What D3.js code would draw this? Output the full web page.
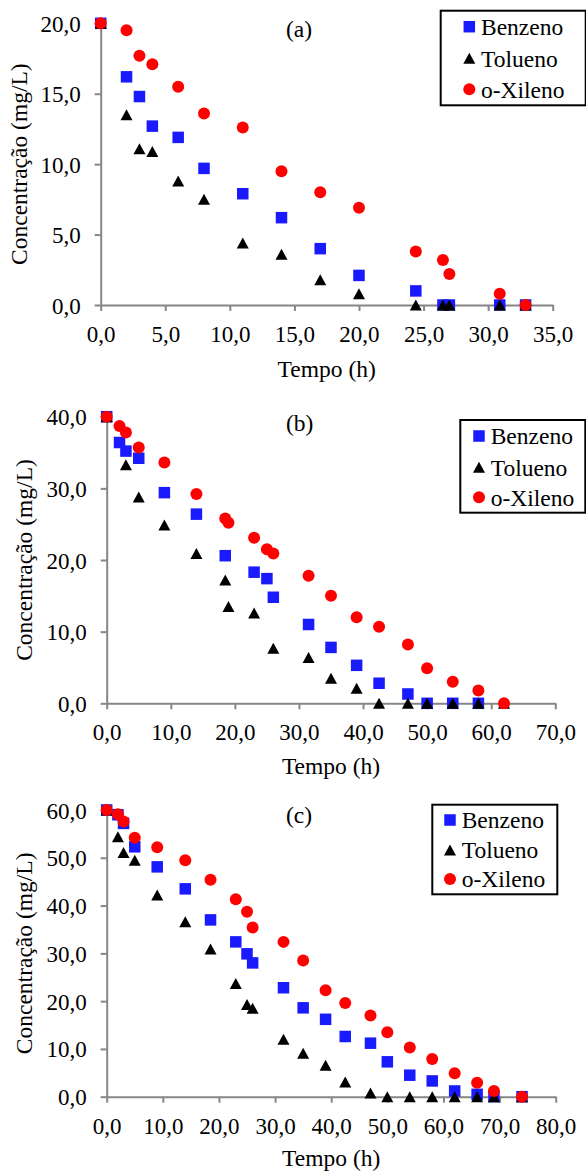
<!DOCTYPE html>
<html>
<head>
<meta charset="utf-8">
<script src="https://cdn.jsdelivr.net/npm/d3@7"></script>
<style>
  html, body { margin: 0; padding: 0; background: #fff; }
  svg { display: block; }
</style>
</head>
<body>
<div id="chart"></div>
<script>
// Panel (a)
const timeA = [0, 2, 3, 4, 6, 8, 11, 14, 17, 20, 24.4, 26.5, 27, 30.9, 32.9];
const benzenoA = [20, 16.2, 14.8, 12.7, 11.9, 9.7, 7.9, 6.2, 4.0, 2.1, 1.0, 0, 0, 0, 0];
const toluenoA = [20, 13.5, 11.1, 10.9, 8.8, 7.5, 4.4, 3.6, 1.8, 0.8, 0, 0, 0, 0, 0];
const xilenoA = [20, 19.5, 17.7, 17.1, 15.5, 13.6, 12.6, 9.5, 8.0, 6.9, 3.8, 3.2, 2.2, 0.8, 0];

// Panel (b)
const timeB = [0, 2, 3, 5, 9, 14, 18.5, 19, 23, 25, 26, 31.5, 35, 39, 42.5, 47, 50, 54, 58, 62];
const benzenoB = [40, 36.4, 35.2, 34.2, 29.4, 26.4, 20.6, null, 18.3, 17.4, 14.8, 11.0, 7.8, 5.3, 2.8, 1.3, 0, 0, 0, null];
const toluenoB = [40, null, 33.3, 28.8, 24.9, 20.9, 17.2, 13.5, 12.6, null, 7.7, 6.4, 3.5, 2.1, 0, 0, 0, 0, 0, 0];
const xilenoB = [40, 38.7, 37.8, 35.7, 33.6, 29.2, 25.8, 25.2, 23.1, 21.5, 20.9, 17.8, 15.0, 12.0, 10.7, 8.2, 4.9, 3.0, 1.8, 0];

// Panel (c)
const timeC = [0, 2, 3, 5, 9, 14, 18.5, 23, 25, 26, 31.5, 35, 39, 42.5, 47, 50, 54, 58, 62, 66, 69, 74];
const benzenoC = [60, 59.0, 57.2, 52.3, 48.1, 43.5, 37.0, 32.4, 29.9, 28.0, 22.8, 18.6, 16.2, 12.6, 11.2, 7.3, 4.5, 3.3, 1.2, 0.5, 0, 0];
const toluenoC = [60, 54.4, 51.1, 49.5, 42.2, 36.6, 30.9, 23.7, 19.3, 18.5, 12.0, 9.1, 6.6, 3.1, 0.8, 0, 0, 0, 0, 0, 0, 0];
const xilenoC = [60, 59.1, 57.6, 54.2, 52.2, 49.5, 45.4, 41.3, 38.7, 35.4, 32.4, 28.5, 22.3, 19.6, 17.0, 13.5, 10.3, 7.9, 4.9, 2.9, 1.2, 0];

const seriesNames = ['Benzeno', 'Tolueno', 'o-Xileno'];
const panelLabels = ['(a)', '(b)', '(c)'];
const xTicksA = [0, 5, 10, 15, 20, 25, 30, 35];
const yTicksA = [0, 5, 10, 15, 20];
const xTicksB = [0, 10, 20, 30, 40, 50, 60, 70];
const yTicksB = [0, 10, 20, 30, 40];
const xTicksC = [0, 10, 20, 30, 40, 50, 60, 70, 80];
const yTicksC = [0, 10, 20, 30, 40, 50, 60];

const W = 586, H = 1171;
const font = '"Liberation Serif", "Times New Roman", serif';
const axisColor = '#868686';
const colors = ['#1a1aff', '#000000', '#ff0000'];
const fmt = d3.formatLocale({ decimal: ',', thousands: '.', grouping: [3], currency: ['', ''] }).format('.1f');

const svg = d3.select('#chart').append('svg')
  .attr('width', W)
  .attr('height', H);

// marker shapes: square, triangle (centred on its box), circle
function marker(g, kind, color) {
  if (kind === 0) {
    g.append('rect').attr('x', -5.75).attr('y', -5.75).attr('width', 11.5).attr('height', 11.5).attr('fill', color);
  } else if (kind === 1) {
    g.append('path').attr('d', 'M0,-5.5L6,5.5L-6,5.5Z').attr('fill', color);
  } else {
    g.append('circle').attr('r', 6).attr('fill', color);
  }
}

const panels = [
  { time: timeA, series: [benzenoA, toluenoA, xilenoA], xTicks: xTicksA, yTicks: yTicksA,
    left: 100.7, right: 552.7, top: 23.3, bottom: 305, titleY: 368.3, yTitleX: 26.7,
    legend: { x: 440.7, y: 10.7, w: 145, h: 94.6, rows: [26.7, 58.3, 89.3], mx: 469.3, tx: 481 },
    label: { x: 286, y: 28.3 } },
  { time: timeB, series: [benzenoB, toluenoB, xilenoB], xTicks: xTicksB, yTicks: yTicksB,
    left: 106.7, right: 555.3, top: 416.7, bottom: 703.3, titleY: 766, yTitleX: 32.3,
    legend: { x: 460.3, y: 420, w: 125, h: 92.7, rows: [436, 467.3, 497.3], mx: 479, tx: 490.7 },
    label: { x: 286, y: 422.7 } },
  { time: timeC, series: [benzenoC, toluenoC, xilenoC], xTicks: xTicksC, yTicks: yTicksC,
    left: 106.7, right: 555.7, top: 810, bottom: 1096.7, titleY: 1157.5, yTitleX: 32.3,
    legend: { x: 432.3, y: 804.7, w: 125, h: 89.6, rows: [820, 850, 879], mx: 450, tx: 461.7 },
    label: { x: 286, y: 815 } }
];

panels.forEach((p, pi) => {
  const x = d3.scaleLinear()
    .domain([0, d3.max(p.xTicks)])
    .range([p.left, p.right]);
  const y = d3.scaleLinear()
    .domain([0, d3.max(p.yTicks)])
    .range([p.bottom, p.top]);

  // x axis
  const xAxis = svg.append('g')
    .attr('transform', `translate(0, ${p.bottom})`)
    .call(d3.axisBottom(x).tickValues(p.xTicks).tickFormat(fmt).tickSize(6).tickSizeOuter(0));
  xAxis.select('.domain').attr('stroke', axisColor).attr('stroke-width', 2);
  xAxis.selectAll('.tick line').attr('stroke', axisColor).attr('stroke-width', 2);
  xAxis.selectAll('.tick text')
    .attr('y', 29).attr('dy', '0.35em')
    .style('font-family', font).style('font-size', '23px').attr('fill', '#000');

  // y axis
  const yAxis = svg.append('g')
    .attr('transform', `translate(${p.left}, 0)`)
    .call(d3.axisLeft(y).tickValues(p.yTicks).tickFormat(fmt).tickSize(6).tickSizeOuter(0));
  yAxis.select('.domain').attr('stroke', axisColor).attr('stroke-width', 2);
  yAxis.selectAll('.tick line').attr('stroke', axisColor).attr('stroke-width', 2);
  yAxis.selectAll('.tick text')
    .attr('x', -20).attr('dy', '0.35em')
    .style('font-family', font).style('font-size', '23px').attr('fill', '#000');

  // axis titles
  svg.append('text')
    .attr('x', (p.left + p.right) / 2)
    .attr('y', p.titleY)
    .attr('dy', '0.35em')
    .attr('text-anchor', 'middle')
    .style('font-family', font).style('font-size', '23.5px')
    .text('Tempo (h)');

  svg.append('text')
    .attr('transform', `translate(${p.yTitleX}, ${(p.top + p.bottom) / 2}) rotate(-90)`)
    .attr('text-anchor', 'middle')
    .style('font-family', font).style('font-size', '23.5px')
    .text('Concentração (mg/L)');

  // panel label
  svg.append('text')
    .attr('x', p.label.x).attr('y', p.label.y).attr('dy', '0.35em')
    .style('font-family', font).style('font-size', '23.5px')
    .text(panelLabels[pi]);

  // points: benzeno, tolueno, then o-xileno on top
  p.series.forEach((vals, si) => {
    const g = svg.append('g');
    vals.forEach((v, i) => {
      if (v === null) return;
      const m = g.append('g').attr('transform', `translate(${x(p.time[i])}, ${y(v)})`);
      marker(m, si, colors[si]);
    });
  });

  // legend
  const L = p.legend;
  svg.append('rect')
    .attr('x', L.x).attr('y', L.y).attr('width', L.w).attr('height', L.h)
    .attr('fill', '#fff').attr('stroke', '#000').attr('stroke-width', 2);
  seriesNames.forEach((name, si) => {
    const m = svg.append('g').attr('transform', `translate(${L.mx}, ${L.rows[si]})`);
    marker(m, si, colors[si]);
    svg.append('text')
      .attr('x', L.tx).attr('y', L.rows[si]).attr('dy', '0.35em')
      .style('font-family', font).style('font-size', '23.5px')
      .text(name);
  });
});
</script>
</body>
</html>
